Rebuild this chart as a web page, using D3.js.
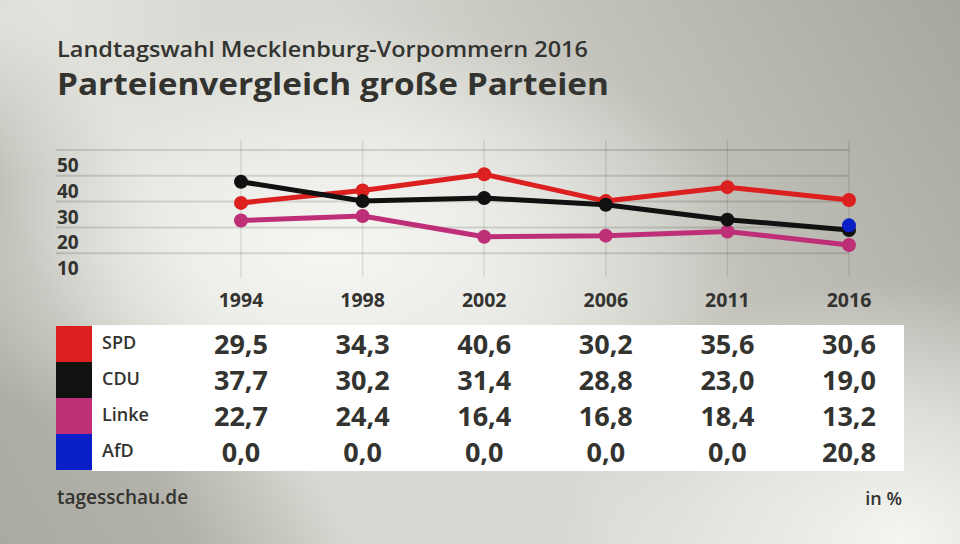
<!DOCTYPE html>
<html><head><meta charset="utf-8">
<script src="https://cdn.jsdelivr.net/npm/d3@7"></script>
<style>html,body{margin:0;padding:0;background:#b0b0a8;}svg{display:block;font-family:"Open Sans",sans-serif;}</style>
</head><body>
<script>
const years = ["1994","1998","2002","2006","2011","2016"];
const parties = ["SPD","CDU","Linke","AfD"];
const colors = ["#dc1f1f","#111111","#be2f78","#0a1fc8"];
const spd = [29.5,34.3,40.6,30.2,35.6,30.6];
const cdu = [37.7,30.2,31.4,28.8,23.0,19.0];
const linke = [22.7,24.4,16.4,16.8,18.4,13.2];
const afd = [0.0,0.0,0.0,0.0,0.0,20.8];
const yTicks = [10,20,30,40,50];
const title1 = "Landtagswahl Mecklenburg-Vorpommern 2016";
const title2 = "Parteienvergleich große Parteien";
const source = "tagesschau.de";
const unit = "in %";

const seriesValues = [spd,cdu,linke,afd];
const W=960,H=544;
const svg = d3.select("body").append("svg").attr("width",W).attr("height",H);
const defs = svg.append("defs");

// background
const lg = defs.append("linearGradient").attr("id","bg").attr("gradientUnits","userSpaceOnUse")
  .attr("x1",960).attr("y1",0).attr("x2",0).attr("y2",544);
[[0,"#a7a79f"],[0.3,"#c2c2bb"],[0.5,"#d8d8d2"],[0.72,"#d8d8d2"],[0.85,"#b2b2aa"],[1,"#aaaaa2"]]
  .forEach(s=>lg.append("stop").attr("offset",s[0]).attr("stop-color",s[1]));
svg.append("rect").attr("width",W).attr("height",H).attr("fill","url(#bg)");
function spot(id,cx,cy,sx,sy,col,op){
  const g=defs.append("radialGradient").attr("id",id).attr("gradientUnits","userSpaceOnUse")
    .attr("cx",0).attr("cy",0).attr("r",1)
    .attr("gradientTransform",`translate(${cx},${cy}) scale(${sx},${sy})`);
  g.append("stop").attr("offset",0).attr("stop-color",col).attr("stop-opacity",op);
  g.append("stop").attr("offset",0.5).attr("stop-color",col).attr("stop-opacity",op*0.6);
  g.append("stop").attr("offset",1).attr("stop-color",col).attr("stop-opacity",0);
  svg.append("rect").attr("width",W).attr("height",H).attr("fill",`url(#${id})`);
}
spot("s1",330,250,420,230,"#f7f8f4",0.95);
spot("s2",900,540,340,260,"#f7f8f4",0.95);
spot("s3",0,20,220,160,"#eeeeea",0.6);

const txt="#333330";
svg.append("text").attr("x",57).attr("y",57).attr("fill",txt)
  .attr("font-size",22).attr("font-weight",600).attr("textLength",531).attr("lengthAdjust","spacingAndGlyphs").text(title1);
svg.append("text").attr("x",57).attr("y",95).attr("fill",txt)
  .attr("font-size",31).attr("font-weight",700).attr("textLength",552).attr("lengthAdjust","spacingAndGlyphs").text(title2);

const x = d3.scalePoint().domain(years).range([241,849]);
const y = d3.scaleLinear().domain([0,50]).range([279,150]);

// grid
const grid = svg.append("g");
grid.selectAll("line.h").data(yTicks).join("line")
  .attr("x1",56).attr("x2",849).attr("y1",d=>y(d)).attr("y2",d=>y(d))
  .attr("stroke","#000").attr("stroke-opacity",0.13).attr("stroke-width",2);
grid.selectAll("line.v").data(years).join("line")
  .attr("x1",d=>x(d)).attr("x2",d=>x(d)).attr("y1",140).attr("y2",277)
  .attr("stroke","#000").attr("stroke-opacity",0.1).attr("stroke-width",1.5);
svg.append("g").selectAll("text").data(yTicks).join("text")
  .attr("x",57).attr("y",d=>y(d)+22).attr("fill",txt).attr("font-size",19).attr("font-weight",700).text(d=>d);

// lines
const line = d3.line().x((d,i)=>x(years[i])).y(d=>y(d));
const order=[0,2,1];
order.forEach(k=>{
  svg.append("path").attr("d",line(seriesValues[k])).attr("fill","none")
    .attr("stroke",colors[k]).attr("stroke-width",5).attr("stroke-linejoin","round");
  svg.append("g").selectAll("circle").data(seriesValues[k]).join("circle")
    .attr("cx",(d,i)=>x(years[i])).attr("cy",d=>y(d)).attr("r",7).attr("fill",colors[k]);
});
// AfD: only nonzero values plotted
svg.append("g").selectAll("circle").data(afd.map((v,i)=>({v,i})).filter(d=>d.v>0)).join("circle")
  .attr("cx",d=>x(years[d.i])).attr("cy",d=>y(d.v)).attr("r",7).attr("fill",colors[3]);

// year labels
svg.append("g").selectAll("text").data(years).join("text")
  .attr("x",d=>x(d)).attr("y",307).attr("text-anchor","middle").attr("fill",txt)
  .attr("font-size",19.5).attr("font-weight",700).text(d=>d);

// table
const rowH=36, tableTop=326;
svg.append("rect").attr("x",92).attr("y",325).attr("width",812).attr("height",146).attr("fill","#ffffff");
const fmt = v=>v.toFixed(1).replace(".",",");
parties.forEach((p,k)=>{
  const ry = tableTop+k*rowH;
  svg.append("rect").attr("x",56).attr("y",ry).attr("width",36).attr("height",rowH).attr("fill",colors[k]);
  svg.append("text").attr("x",102).attr("y",ry+23).attr("fill",txt).attr("font-size",18).attr("font-weight",600).text(p);
  svg.append("g").selectAll("text").data(seriesValues[k]).join("text")
    .attr("x",(d,i)=>x(years[i])).attr("y",ry+28).attr("text-anchor","middle").attr("fill",txt)
    .attr("font-size",27).attr("font-weight",700).text(d=>fmt(d));
});

svg.append("text").attr("x",57).attr("y",504).attr("fill",txt).attr("font-size",19).attr("font-weight",600).text(source);
svg.append("text").attr("x",902).attr("y",505).attr("text-anchor","end").attr("fill",txt).attr("font-size",18).attr("font-weight",600).text(unit);
</script>
</body></html>
